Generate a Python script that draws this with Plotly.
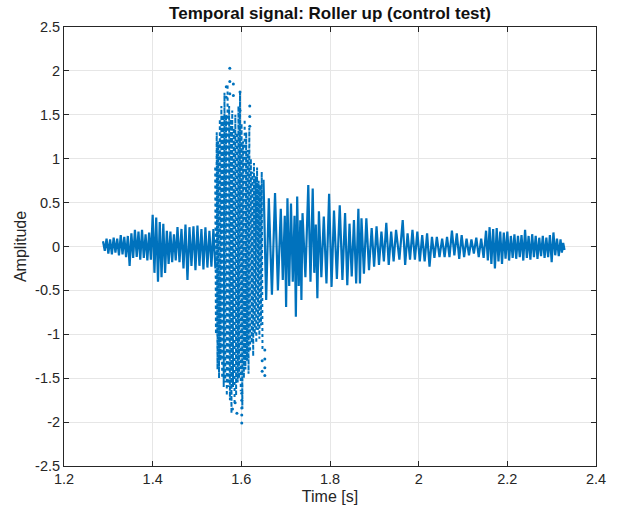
import plotly.graph_objects as go

# ---- data ----
# quiet section before the impact: stroke time, upper peak, lower peak
pre_t = [1.288, 1.296, 1.304, 1.312, 1.320, 1.328, 1.336, 1.344, 1.352, 1.360,
         1.368, 1.376, 1.384, 1.392, 1.400, 1.408, 1.416, 1.424, 1.432, 1.440,
         1.448, 1.456, 1.465, 1.474, 1.483, 1.492, 1.501, 1.510, 1.519, 1.528, 1.537]
pre_top = [0.06, 0.09, 0.08, 0.10, 0.09, 0.13, 0.11, 0.12, 0.15, 0.19,
           0.17, 0.19, 0.14, 0.16, 0.36, 0.33, 0.28, 0.26, 0.18, 0.17,
           0.14, 0.22, 0.20, 0.25, 0.22, 0.23, 0.24, 0.20, 0.22, 0.18, 0.20]
pre_bot = [-0.05, -0.08, -0.09, -0.07, -0.10, -0.09, -0.12, -0.22, -0.13, -0.12,
           -0.15, -0.13, -0.16, -0.15, -0.30, -0.40, -0.35, -0.30, -0.20, -0.18,
           -0.16, -0.18, -0.25, -0.38, -0.22, -0.27, -0.22, -0.26, -0.24, -0.23, -0.25]

# impact burst
burst_t = [1.541, 1.5445, 1.548, 1.5515, 1.555, 1.5585, 1.562, 1.5655, 1.569, 1.5725,
           1.576, 1.5795, 1.583, 1.5865, 1.590, 1.5935, 1.597, 1.6005, 1.604, 1.6075,
           1.611, 1.6145, 1.618, 1.6215, 1.625, 1.6285, 1.632, 1.6355, 1.639, 1.6425, 1.646]
burst_top = [0.9, 1.3, 1.2, 1.45, 1.6, 1.5, 1.75, 1.5, 1.85, 1.6,
             1.45, 1.55, 1.35, 1.5, 1.3, 1.6, 1.75, 1.4, 1.2, 1.45,
             1.3, 1.1, 1.35, 1.0, 0.85, 0.95, 0.8, 0.9, 0.75, 0.7, 0.85]
burst_bot = [-1.0, -1.4, -1.5, -1.3, -1.5, -1.6, -1.55, -1.7, -1.6, -1.75,
             -1.9, -1.6, -1.8, -1.7, -1.55, -1.5, -1.65, -1.85, -1.5, -1.4,
             -1.3, -1.45, -1.2, -1.1, -1.25, -1.0, -1.1, -0.95, -1.05, -0.9, -1.2]

# isolated extreme samples
spike_t = [1.574, 1.574, 1.574, 1.566, 1.566, 1.582, 1.582, 1.597, 1.597,
           1.619, 1.619, 1.619, 1.601, 1.601, 1.601, 1.601, 1.601,
           1.586, 1.590, 1.580, 1.653, 1.653, 1.653, 1.653, 1.647, 1.647]
spike_v = [2.03, 1.88, 1.74, 1.82, 1.70, 1.85, 1.72, 1.76, 1.55,
           1.60, 1.48, 1.37, -1.67, -1.75, -1.84, -1.92, -2.01,
           -1.78, -1.90, -1.85, -1.18, -1.28, -1.38, -1.47, -1.30, -1.42]

# decaying ring-down after the impact
post_t = [1.650, 1.662, 1.676, 1.689, 1.698, 1.704, 1.712, 1.720, 1.726, 1.733,
          1.738, 1.751, 1.761, 1.768, 1.775, 1.786, 1.798, 1.809, 1.822, 1.834,
          1.844, 1.854, 1.864, 1.871, 1.882, 1.894, 1.905, 1.916, 1.927, 1.938,
          1.949, 1.964, 1.975, 1.986, 1.997, 2.008, 2.019, 2.030, 2.041, 2.053,
          2.064, 2.075, 2.086, 2.097, 2.108, 2.119, 2.130, 2.141, 2.152, 2.160,
          2.168, 2.176, 2.184, 2.192, 2.200, 2.208, 2.216, 2.224, 2.232, 2.240,
          2.248, 2.256, 2.264, 2.272, 2.280, 2.288, 2.296, 2.304, 2.312, 2.320, 2.326]
post_top = [0.76, 0.55, 0.61, 0.43, 0.35, 0.55, 0.49, 0.35, 0.57, 0.30,
            0.38, 0.70, 0.66, 0.25, 0.40, 0.34, 0.60, 0.41, 0.47, 0.38,
            0.26, 0.30, 0.43, 0.32, 0.32, 0.21, 0.23, 0.17, 0.27, 0.17,
            0.19, 0.30, 0.15, 0.19, 0.17, 0.13, 0.15, 0.11, 0.11, 0.09,
            0.11, 0.18, 0.15, 0.13, 0.09, 0.08, 0.10, 0.09, 0.18, 0.22,
            0.20, 0.21, 0.17, 0.16, 0.17, 0.12, 0.14, 0.12, 0.13, 0.19,
            0.12, 0.14, 0.12, 0.10, 0.12, 0.10, 0.13, 0.16, 0.09, 0.08, 0.04]
post_bot = [-0.61, -0.55, -0.50, -0.38, -0.69, -0.45, -0.40, -0.80, -0.45, -0.61,
            -0.35, -0.40, -0.30, -0.59, -0.35, -0.42, -0.46, -0.37, -0.38, -0.44,
            -0.34, -0.42, -0.42, -0.31, -0.27, -0.23, -0.21, -0.17, -0.21, -0.17,
            -0.15, -0.21, -0.15, -0.15, -0.17, -0.17, -0.23, -0.13, -0.12, -0.12,
            -0.12, -0.10, -0.14, -0.12, -0.10, -0.08, -0.12, -0.13, -0.16, -0.20,
            -0.25, -0.17, -0.20, -0.14, -0.16, -0.13, -0.14, -0.12, -0.16, -0.13,
            -0.15, -0.12, -0.14, -0.11, -0.13, -0.12, -0.18, -0.10, -0.11, -0.07, -0.04]

x_ticks = [1.2, 1.4, 1.6, 1.8, 2.0, 2.2, 2.4]
x_labels = ["1.2", "1.4", "1.6", "1.8", "2", "2.2", "2.4"]
y_ticks = [-2.5, -2, -1.5, -1, -0.5, 0, 0.5, 1, 1.5, 2, 2.5]
y_labels = ["-2.5", "-2", "-1.5", "-1", "-0.5", "0", "0.5", "1", "1.5", "2", "2.5"]

COLOR = "#0072BD"
FONT = "Liberation Sans, Arial, Helvetica"


def zigzag(ts, tops, bots):
    xs, ys = [], []
    n = len(ts)
    for i in range(n):
        nxt = ts[i + 1] if i + 1 < n else ts[i] + (ts[i] - ts[i - 1])
        xs += [ts[i], (ts[i] + nxt) / 2]
        ys += [tops[i], bots[i]]
    return xs, ys


fig = go.Figure()
for ts, tops, bots in [(pre_t, pre_top, pre_bot), (post_t, post_top, post_bot)]:
    xs, ys = zigzag(ts, tops, bots)
    fig.add_trace(go.Scatter(x=xs, y=ys, mode="lines",
                             line=dict(color=COLOR, width=2.2), hoverinfo="skip"))

bx, by = zigzag(burst_t, burst_top, burst_bot)
fig.add_trace(go.Scatter(x=bx, y=by, mode="lines",
                         line=dict(color=COLOR, width=2, dash="dot"),
                         hoverinfo="skip"))
fig.add_trace(go.Scatter(x=spike_t, y=spike_v, mode="markers",
                         marker=dict(color=COLOR, size=3), hoverinfo="skip"))

axis_common = dict(showline=True, linecolor="#262626", linewidth=1, mirror="ticks",
                   ticks="inside", ticklen=5, tickcolor="#262626",
                   showgrid=True, gridcolor="#e6e6e6", gridwidth=1, zeroline=False,
                   tickfont=dict(family=FONT, size=14.5, color="#262626"))

W, H = 618, 519
fig.update_layout(
    width=W, height=H,
    margin=dict(l=64, r=13, t=27, b=53),
    paper_bgcolor="white", plot_bgcolor="white",
    showlegend=False,
    hovermode=False,
    title=dict(text="<b>Temporal signal: Roller up (control test)</b>",
               x=0.5, xref="paper", xanchor="center",
               y=1 - 13 / H, yref="container", yanchor="middle",
               font=dict(family=FONT, size=17, color="#111111")),
    xaxis=dict(range=[1.2, 2.4], tickvals=x_ticks, ticktext=x_labels,
               title=dict(text="Time [s]", standoff=4,
                          font=dict(family=FONT, size=16, color="#262626")),
               **axis_common),
    yaxis=dict(range=[-2.5, 2.5], tickvals=y_ticks, ticktext=y_labels,
               title=dict(text="Amplitude", standoff=4,
                          font=dict(family=FONT, size=16, color="#262626")),
               **axis_common),
)

# remove the default page margin so the figure fills the window exactly
fig.write_html("out.html",
               config={"displayModeBar": False},
               post_script="document.body.style.margin='0';"
                           "document.body.style.overflow='hidden';")
